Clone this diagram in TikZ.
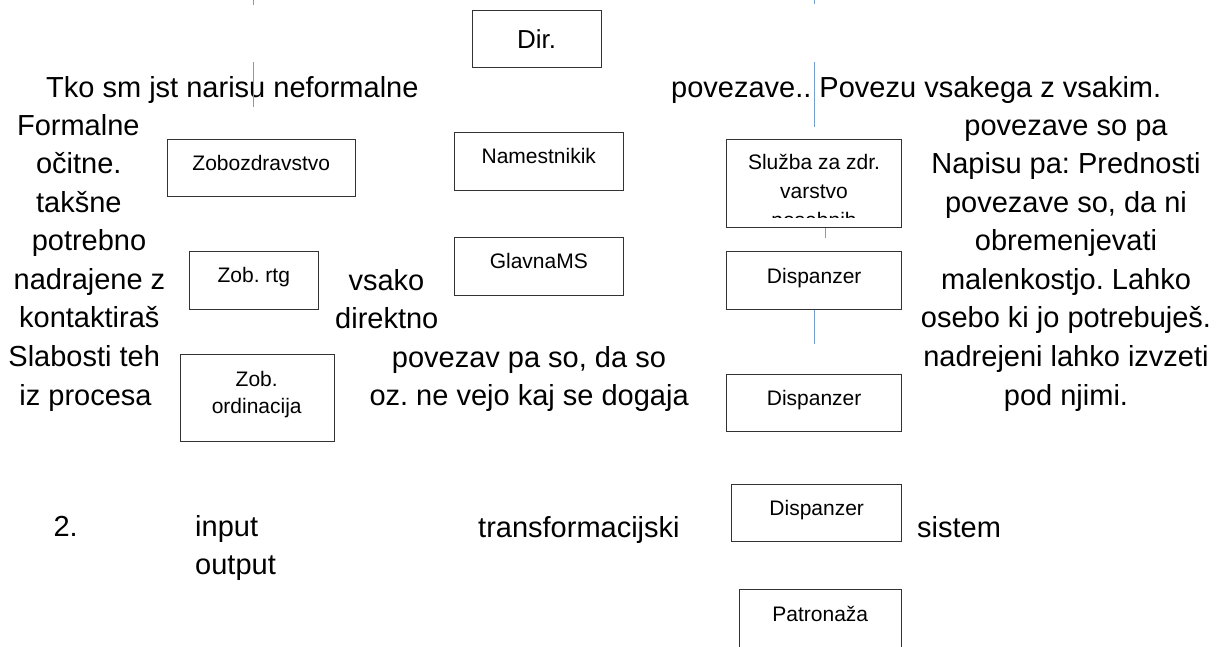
\documentclass[tikz,border=0pt]{standalone}
\usepackage{fontspec}
\setmainfont{Liberation Sans}
\definecolor{linkblue}{RGB}{114,159,207}
\frenchspacing
\begin{document}
\begin{tikzpicture}[x=1pt,y=-1pt,
  big/.style={inner sep=0pt, anchor=base, font=\fontsize{29}{35}\selectfont},
  bigw/.style={big, anchor=base west},
  box/.style={draw=black!80, line width=0.9pt, inner sep=0pt, font=\fontsize{21}{25}\selectfont, text height=15pt, text depth=10pt},
  boxtxt/.style={inner sep=0pt, anchor=base, font=\fontsize{21}{25}\selectfont},
  link/.style={draw=linkblue, line width=1pt}]
\useasboundingbox (0,0) rectangle (1223,646);

% boxes
\node[box, minimum width=129pt, minimum height=57pt, font=\fontsize{26}{30}\selectfont, text height=19pt, text depth=0pt] (dir) at (536.5,38.5) {Dir.};
\node[box, minimum width=188pt, minimum height=57.4pt] (zobo) at (261.3,168) {Zobozdravstvo};
\node[box, minimum width=169pt, minimum height=57.3pt] (nam) at (538.8,161.3) {Namestnikik};
\node[box, minimum width=175pt, minimum height=88.4pt] (sluzba) at (814.2,183.5) {};
\node[box, minimum width=129pt, minimum height=57.3pt] (rtg) at (253.8,280.3) {Zob. rtg};
\node[box, minimum width=169pt, minimum height=57.3pt] (glavna) at (538.8,266.3) {GlavnaMS};
\node[box, minimum width=175pt, minimum height=57.5pt] (disp1) at (814.2,280.5) {Dispanzer};
\node[box, minimum width=154pt, minimum height=87.2pt] (ord) at (257,398.1) {};
\node[box, minimum width=175pt, minimum height=57.5pt] (disp2) at (814.1,402.8) {Dispanzer};
\node[box, minimum width=170pt, minimum height=57.3pt] (disp3) at (816.7,512.7) {Dispanzer};
\node[box, minimum width=162.7pt, minimum height=60pt] (pat) at (820.3,619.3) {Patronaža};

% clipped text of the Sluzba box
\begin{scope}
\clip (726.7,139.3) rectangle (901.7,217);
\node[boxtxt] (s1) at (814,169.3) {Služba za zdr.};
\node[boxtxt] (s2) at (814,198.3) {varstvo};
\node[boxtxt] (s3) at (814,227.3) {posebnih};
\end{scope}

\node[boxtxt] (o1) at (256.7,386) {Zob.};
\node[boxtxt] (o2) at (256.7,413) {ordinacija};

% top line
\node[bigw] (t1) at (46,97) {Tko sm jst narisu neformalne};
\node[bigw] (t2) at (671,97) {povezave.. Povezu vsakega z vsakim.};

% left column
\node[big] (l1) at (78.3,135) {Formalne};
\node[big] (l2) at (78.8,173.6) {očitne.};
\node[big] (l3) at (78.8,212.1) {takšne};
\node[big] (l4) at (89,250.7) {potrebno};
\node[big] (l5) at (89.5,289.3) {nadrajene z};
\node[big] (l6) at (89.3,327.9) {kontaktiraš};
\node[big] (l7) at (84.2,366.4) {Slabosti teh};
\node[big] (l8) at (85.5,405) {iz procesa};

% right column
\node[big] (r1) at (1066,135) {povezave so pa};
\node[big] (r2) at (1066,173.6) {Napisu pa: Prednosti};
\node[big] (r3) at (1066,212.1) {povezave so, da ni};
\node[big] (r4) at (1066,250.7) {obremenjevati};
\node[big] (r5) at (1066,289.3) {malenkostjo. Lahko};
\node[big] (r6) at (1066,327.9) {osebo ki jo potrebuješ.};
\node[big] (r7) at (1066,366.4) {nadrejeni lahko izvzeti};
\node[big] (r8) at (1066,405) {pod njimi.};

% middle
\node[bigw] (m1) at (348.3,290.7) {vsako};
\node[bigw] (m2) at (335,328.3) {direktno};
\node[bigw] (m3) at (391.7,367.3) {povezav pa so, da so};
\node[bigw] (m4) at (369.3,405) {oz. ne vejo kaj se dogaja};

% bottom
\node[bigw] (b1) at (53.3,536) {2.};
\node[bigw] (b2) at (195,536) {input};
\node[bigw] (b3) at (195,574) {output};
\node[bigw] (b4) at (478,537) {transformacijski};
\node[bigw] (b5) at (917,537) {sistem};

% blue lines
\coordinate (a1) at (253.5,0);   \coordinate (a2) at (253.5,5);
\coordinate (c1) at (253,62);    \coordinate (c2) at (253,107);
\coordinate (d1) at (814.5,0);   \coordinate (d2) at (814.5,4);
\coordinate (e1) at (814,62);    \coordinate (e2) at (814,127);
\coordinate (f2) at ([xshift=10.8pt,yshift=-10pt]sluzba.south);
\coordinate (g2) at ([yshift=-34pt]disp1.south);
\draw[link] (a1) -- (a2);
\draw[link] (c1) -- (c2);
\draw[link] (d1) -- (d2);
\draw[link] (e1) -- (e2);
\draw[link] ([xshift=10.8pt]sluzba.south) -- (f2);
\draw[link] (disp1.south) -- (g2);
\end{tikzpicture}
\end{document}
